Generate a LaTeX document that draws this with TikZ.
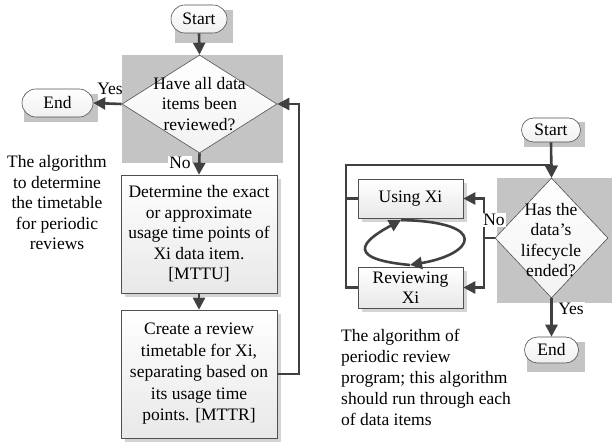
\documentclass[tikz,border=0pt]{standalone}
\usepackage{fontspec}
\setmainfont{Liberation Serif}
\usetikzlibrary{shapes.geometric,shapes.misc,arrows.meta,calc}
\definecolor{arrowc}{HTML}{404040}
\definecolor{shadowc}{HTML}{C4C4C4}
\definecolor{lightshadow}{HTML}{D4D4D4}
\definecolor{edgec}{HTML}{505050}
\tikzset{
  txt/.style={font=\fontsize{17.5}{20.5}\selectfont, align=center, inner sep=0pt},
  term/.style={rounded rectangle, draw=edgec, line width=0.6pt, top color=white, bottom color=gray!12, inner sep=0pt, txt},
  procbox/.style={rectangle, draw=edgec, line width=0.6pt, top color=white, bottom color=gray!18, inner sep=0pt, txt},
  decision/.style={diamond, draw=edgec, line width=0.6pt, top color=white, bottom color=gray!10, inner sep=0pt},
  dtext/.style={txt},
  conn/.style={draw=arrowc, line width=2.6pt},
  arr/.style={conn, -{Triangle[length=12pt,width=12pt]}},
  lab/.style={font=\fontsize{17.5}{20.5}\selectfont, inner sep=1pt, fill=white},
}
\begin{document}
\begin{tikzpicture}[x=1pt,y=-1pt]
\useasboundingbox (0,0) rectangle (612,443);

% ---------- shadows (drawn first) ----------
\fill[shadowc] (175,10) rectangle (233,43);
\fill[shadowc] (24,94) rectangle (98,122);
\fill[shadowc] (122,55) rectangle (283,163);
\fill[lightshadow] (125,179) rectangle (281,297);
\fill[lightshadow] (125,314) rectangle (281,442);
\fill[shadowc] (524,122) rectangle (585,147);
\fill[shadowc] (497,178) rectangle (612,303);
\fill[shadowc] (527,342) rectangle (585,372);
\fill[lightshadow] (362,183) rectangle (467,222);
\fill[lightshadow] (362,271) rectangle (467,312);

% ---------- left flowchart ----------
\node[term, minimum width=56pt, minimum height=28pt] (s1) at (199,19) {Start};
\node[decision, minimum width=155pt, minimum height=98pt] (d1) at (199.5,104) {};
\node[dtext] (d1t) at (d1.center) {Have all data\\items been\\reviewed?};
\node[term, minimum width=71pt, minimum height=28pt] (e1) at (57.5,103) {End};
\node[procbox, minimum width=156pt, minimum height=118pt] (b1) at (199,234)
  {Determine the exact\\or approximate\\usage time points of\\Xi data item.\\{}[MTTU]};
\node[procbox, minimum width=156pt, minimum height=128pt, font=\fontsize{17.5}{21.5}\selectfont] (b2) at (199,374)
  {Create a review\\timetable for Xi,\\separating based on\\its usage time\\points. [MTTR]};
\node[txt] (t1) at (57,203) {The algorithm\\to determine\\the timetable\\for periodic\\reviews};

\coordinate (backx) at (299,0);
\draw[arr] (s1.south) -- (d1.north);
\draw[arr] (d1.west) -- (e1.east);
\draw[arr] (d1.south) -- (b1.north);
\draw[arr] (b1.south) -- (b2.north);
\draw[arr] (b2.east) -- (b2.east -| backx) |- (d1.east);
\node[lab, fill=none] (yes1) at (110,89) {Yes};
\node[lab] (no1) at (180,163) {No};

% ---------- right flowchart ----------
\node[term, minimum width=59pt, minimum height=24pt] (s2) at (551,130) {Start};
\node[decision, minimum width=113pt, minimum height=120pt] (d2) at (551.5,238) {};
\node[dtext] (d2t) at (551,240) {Has the\\data’s\\lifecycle\\ended?};
\node[term, minimum width=54pt, minimum height=26pt] (e2) at (551.5,350) {End};
\node[procbox, minimum width=105pt, minimum height=39pt] (u) at (410.5,198.5) {Using Xi};
\node[procbox, minimum width=105pt, minimum height=41pt] (r) at (410.5,287.5) {Reviewing\\Xi};
\node[txt, align=left, anchor=north west, font=\fontsize{17.5}{21}\selectfont] (t2) at (341,329)
  {The algorithm of\\periodic review\\program; this algorithm\\should run through each\\of data items};

\coordinate (looptl) at (346,165);
\coordinate (nox) at (484,0);
\draw[arr] (s2.south) -- (d2.north);
\draw[conn] (u.west) -- (u.west -| looptl);
\draw[arr] (r.west) -| (looptl) -| (d2.north);
\draw[conn] (d2.west) -- (d2.west -| nox);
\draw[arr] (d2.west -| nox) |- (u.east);
\draw[arr] (d2.west -| nox) |- (r.east);
\draw[arr] (d2.south) -- (e2.north);
\node[lab] (no2) at (494,220) {No};
\node[lab] (yes2) at (571,309) {Yes};

% loop between Using Xi and Reviewing Xi
\coordinate (la) at (401,220);
\coordinate (lb) at (410,265);
\draw[arr] (lb) .. controls (335,258) and (372,236) .. (la);
\draw[arr] (la) .. controls (490,222) and (475,254) .. (lb);
\end{tikzpicture}
\end{document}
